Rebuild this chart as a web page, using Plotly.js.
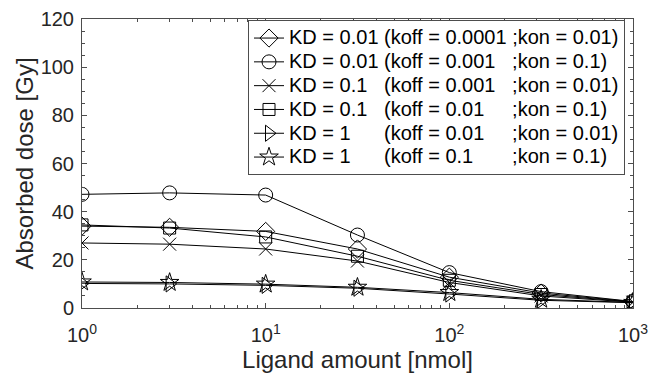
<!DOCTYPE html>
<html>
<head>
<meta charset="utf-8">
<script src="https://cdn.plot.ly/plotly-3.0.1.min.js"></script>
<style>html,body{margin:0;padding:0;background:#fff;}#chart{width:650px;height:374px;}</style>
</head>
<body>
<div id="chart"></div>
<script>
// Ligand amount [nmol]
const ligand = [1, 3, 10, 31.6, 100, 316, 1000];

// Absorbed dose [Gy] per series
const doseKD001_koff00001 = [34.0, 33.5, 31.8, 24.5, 12.8, 6.2, 2.6];
const doseKD001_koff0001  = [47.2, 47.8, 46.9, 30.3, 14.7, 6.8, 2.7];
const doseKD01_koff0001   = [27.0, 26.5, 24.5, 19.5, 10.6, 5.0, 2.4];
const doseKD01_koff001    = [34.5, 33.2, 29.5, 21.5, 11.5, 5.6, 2.5];
const doseKD1_koff001     = [10.2, 10.0, 9.4, 8.2, 5.8, 3.2, 2.2];
const doseKD1_koff01      = [10.8, 10.6, 9.9, 8.6, 6.4, 3.6, 2.3];

const S = '\u00A0';
function pad(n){ return S.repeat(n); }
const seriesNames = [
  'KD = 0.01' + pad(1) + '(koff = 0.0001' + pad(1) + ';kon = 0.01)',
  'KD = 0.01' + pad(1) + '(koff = 0.001' + pad(3) + ';kon = 0.1)',
  'KD = 0.1' + pad(3) + '(koff = 0.001' + pad(3) + ';kon = 0.01)',
  'KD = 0.1' + pad(3) + '(koff = 0.01' + pad(5) + ';kon = 0.1)',
  'KD = 1' + pad(6) + '(koff = 0.01' + pad(5) + ';kon = 0.01)',
  'KD = 1' + pad(6) + '(koff = 0.1' + pad(7) + ';kon = 0.1)'
];
const seriesValues = [doseKD001_koff00001, doseKD001_koff0001, doseKD01_koff0001,
                      doseKD01_koff001, doseKD1_koff001, doseKD1_koff01];
const symbols = ['diamond-open', 'circle-open', 'x-thin-open', 'square-open', 'triangle-right-open', 'star-open'];
const sizes = [14, 14, 13, 12, 14, 14];

const xTickVals = [1, 10, 100, 1000];
const xTickText = ['10<sup>0</sup>', '10<sup>1</sup>', '10<sup>2</sup>', '10<sup>3</sup>'];
const xMinor = [];
for (let d = 1; d < 1000; d *= 10) for (let k = 2; k <= 9; k++) xMinor.push(k * d);

const traces = seriesValues.map((vals, i) => ({
  x: ligand, y: vals,
  name: '<span style="font-size:20px">' + seriesNames[i] + '</span>',
  type: 'scatter', mode: 'lines+markers',
  line: {color: '#000', width: 1},
  marker: {symbol: symbols[i], size: sizes[i], color: '#000', line: {color: '#000', width: 1}}
}));

const axisCommon = {
  showline: true, linecolor: '#4d4d4d', linewidth: 1, mirror: 'ticks',
  ticks: 'inside', ticklen: 5, tickcolor: '#4d4d4d', tickwidth: 1,
  showgrid: false, zeroline: false,
  tickfont: {family: 'Liberation Sans, Arial, sans-serif', size: 20, color: '#262626'}
};

const layout = {
  width: 650, height: 374,
  margin: {l: 82, r: 17, t: 19, b: 66},
  paper_bgcolor: '#fff', plot_bgcolor: '#fff',
  font: {family: 'Liberation Sans, Arial, sans-serif', color: '#262626'},
  showlegend: true,
  xaxis: Object.assign({}, axisCommon, {
    type: 'log', range: [0, 3],
    tickmode: 'array', tickvals: xTickVals, ticktext: xTickText,
    ticklabelstandoff: 9,
    minor: {tickmode: 'array', tickvals: xMinor, ticks: 'inside', ticklen: 3, tickcolor: '#4d4d4d'},
    title: {text: 'Ligand amount [nmol]', font: {size: 24, color: '#262626'}, standoff: 1}
  }),
  yaxis: Object.assign({}, axisCommon, {
    range: [0, 120], dtick: 20,
    ticklabelstandoff: 3,
    minor: {dtick: 5, ticks: 'inside', ticklen: 3, tickcolor: '#4d4d4d'},
    title: {text: 'Absorbed dose [Gy]', font: {size: 24, color: '#262626'}, standoff: 0}
  }),
  legend: {
    x: 0.9855, xanchor: 'right', y: 0.996, yanchor: 'top',
    bgcolor: '#fff', bordercolor: '#4d4d4d', borderwidth: 1,
    font: {size: 16, color: '#000'}, itemwidth: 30, tracegroupgap: 0
  }
};

Plotly.newPlot('chart', traces, layout, {displayModeBar: false, staticPlot: true});
</script>
</body>
</html>
